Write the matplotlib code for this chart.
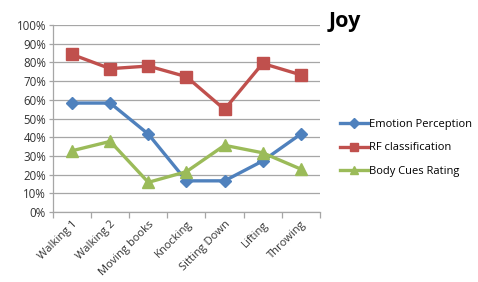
import matplotlib
matplotlib.use("Agg")
import matplotlib.pyplot as plt
import numpy as np
from matplotlib.ticker import FixedLocator, PercentFormatter

categories = ["Walking 1", "Walking 2", "Moving books", "Knocking", "Sitting Down", "Lifting", "Throwing"]
emotion_perception = [58.3, 58.3, 41.7, 16.7, 16.7, 27.3, 41.7]
rf_classification = [84.3, 76.7, 78.1, 72.4, 54.9, 79.5, 73.4]
body_cues_rating = [32.8, 37.8, 15.9, 21.6, 35.7, 31.7, 23.0]
yticks = list(range(0, 101, 10))

plt.rcParams['font.family'] = ['Open Sans', 'DejaVu Sans']

fig = plt.figure(figsize=(4.78, 2.82), dpi=100)
ax = fig.add_axes([0.111, 0.248, 0.558, 0.663])

x = np.arange(len(categories))
ax.plot(x, emotion_perception, color="#4F81BD", lw=2.4, marker="D", ms=6.5,
        label="Emotion Perception")
ax.plot(x, rf_classification, color="#C0504D", lw=2.4, marker="s", ms=8,
        label="RF classification")
ax.plot(x, body_cues_rating, color="#9BBB59", lw=2.4, marker="^", ms=9,
        label="Body Cues Rating")

ax.set_xlim(-0.5, len(categories) - 0.5)
ax.set_ylim(0, 100)
ax.set_yticks(yticks)
ax.yaxis.set_major_formatter(PercentFormatter(decimals=0))
ax.grid(axis="y", color="#A6A6A6", lw=0.9)
ax.set_axisbelow(True)

ax.set_xticks(x)
ax.set_xticklabels(categories, rotation=45, ha="right", rotation_mode="anchor")
ax.xaxis.set_minor_locator(FixedLocator(np.arange(-0.5, len(categories), 1.0)))
ax.tick_params(axis="x", which="major", length=0, pad=5, labelsize=8.0, colors="#333333")
ax.tick_params(axis="x", which="minor", length=4, color="#A6A6A6", width=0.9)
ax.tick_params(axis="y", length=3, color="#A6A6A6", width=0.9, labelsize=8.3, colors="#333333", pad=2)

for s in ["top", "right"]:
    ax.spines[s].set_visible(False)
for s in ["left", "bottom"]:
    ax.spines[s].set_color("#A6A6A6")
    ax.spines[s].set_linewidth(0.9)

fig.text(0.688, 0.925, "Joy", fontsize=15.5, fontweight="bold", ha="left", va="center")

leg = fig.legend(loc="upper left", bbox_to_anchor=(0.703, 0.595), frameon=False,
                 fontsize=8.0, handlelength=2.5, handletextpad=0.1,
                 labelspacing=1.15, borderaxespad=0)
for h in leg.legend_handles:
    h.set_markersize(5.5)

fig.savefig("out.png", dpi=100)
